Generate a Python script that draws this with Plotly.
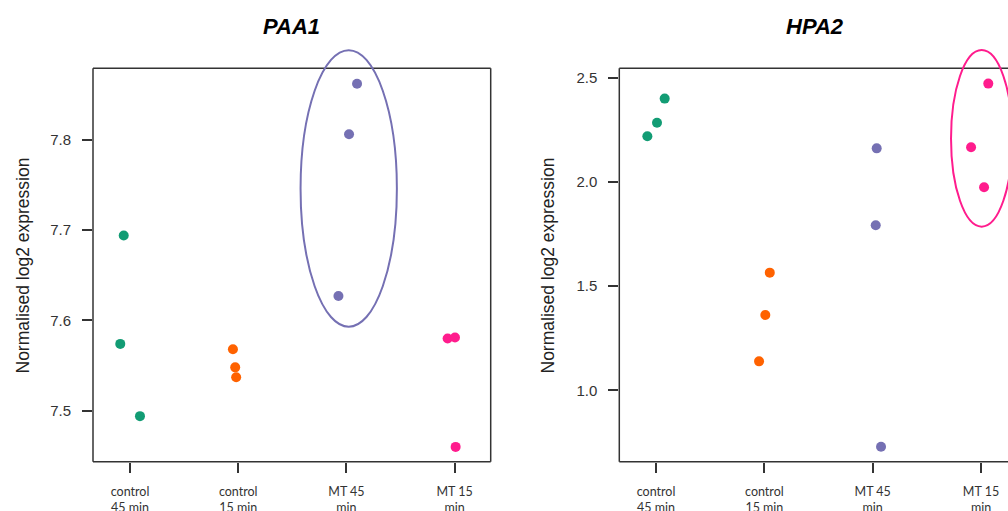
import plotly.graph_objects as go

# ---------------- data ----------------
groups = ["control<br>45 min", "control<br>15 min", "MT 45<br>min", "MT 15<br>min"]
group_pos = [1, 2, 3, 4]
colors = ["#129C74", "#FF6200", "#7570B3", "#FF1C8D"]

# PAA1 values (per group) and horizontal jitter
paa1_c45 = [7.694, 7.574, 7.494]
paa1_c15 = [7.568, 7.548, 7.537]
paa1_mt45 = [7.862, 7.806, 7.627]
paa1_mt15 = [7.580, 7.581, 7.460]
paa1_jit_c45 = [-0.058, -0.090, 0.092]
paa1_jit_c15 = [-0.049, -0.028, -0.019]
paa1_jit_mt45 = [0.098, 0.024, -0.074]
paa1_jit_mt15 = [-0.065, 0.003, 0.009]

# HPA2 values and jitter
hpa2_c45 = [2.220, 2.285, 2.401]
hpa2_c15 = [1.565, 1.362, 1.139]
hpa2_mt45 = [2.162, 1.7925, 0.729]
hpa2_mt15 = [2.473, 2.167, 1.975]
hpa2_jit_c45 = [-0.080, 0.009, 0.080]
hpa2_jit_c15 = [0.050, 0.009, -0.049]
hpa2_jit_mt45 = [0.037, 0.028, 0.077]
hpa2_jit_mt15 = [0.067, -0.092, 0.028]

paa1_ticks = [7.5, 7.6, 7.7, 7.8]
hpa2_ticks = [1.0, 1.5, 2.0, 2.5]

# highlighted groups (ellipse centre, semi-axes)
paa1_ellipse = dict(cx=3.021, cy=7.746, rx=0.445, ry=0.153, color=colors[2])
hpa2_ellipse = dict(cx=4.006, cy=2.210, rx=0.283, ry=0.424, color=colors[3])

# ---------------- figure ----------------
W, H = 1008, 511
fig = go.Figure()

paa1_vals = [paa1_c45, paa1_c15, paa1_mt45, paa1_mt15]
paa1_jit = [paa1_jit_c45, paa1_jit_c15, paa1_jit_mt45, paa1_jit_mt15]
hpa2_vals = [hpa2_c45, hpa2_c15, hpa2_mt45, hpa2_mt15]
hpa2_jit = [hpa2_jit_c45, hpa2_jit_c15, hpa2_jit_mt45, hpa2_jit_mt15]

for vals_set, jit_set, xa, ya in [(paa1_vals, paa1_jit, "x", "y"), (hpa2_vals, hpa2_jit, "x2", "y2")]:
    for g, (vals, jit) in enumerate(zip(vals_set, jit_set)):
        fig.add_trace(go.Scatter(
            x=[group_pos[g] + j for j in jit], y=vals,
            mode="markers", xaxis=xa, yaxis=ya,
            marker=dict(size=10, color=colors[g], line=dict(width=0)),
            showlegend=False, hoverinfo="skip", cliponaxis=False))

ydom = [(H - 461.7) / H, (H - 45) / H]
frame_top = (H - 68.2) / H
tickfont_x = dict(family="Lato", size=12.5, color="#333333")
tickfont_y = dict(family="Liberation Sans", size=15, color="#333333")

common_x = dict(tickmode="array", tickvals=group_pos, ticktext=groups, ticks="outside",
                ticklen=10, tickwidth=1.5, tickcolor="#333333", showline=False,
                showgrid=False, zeroline=False, tickfont=tickfont_x, ticklabelstandoff=8,
                automargin=False, fixedrange=True)
common_y = dict(tickmode="array", ticks="outside", ticklen=10, tickwidth=1.5,
                tickcolor="#333333", showline=False, showgrid=False, zeroline=False,
                tickfont=tickfont_y, ticklabelstandoff=8, automargin=False, fixedrange=True)

fig.update_layout(
    width=W, height=H, margin=dict(l=0, r=0, t=0, b=0, autoexpand=False),
    paper_bgcolor="white", plot_bgcolor="white",
    xaxis=dict(domain=[93 / W, 490.7 / W], range=[0.658, 4.333], anchor="y", **common_x),
    yaxis=dict(domain=ydom, range=[7.4436, 7.9048], anchor="x", tickvals=paa1_ticks,
               ticktext=[f"{v:.1f}" for v in paa1_ticks], **common_y),
    xaxis2=dict(domain=[619.3 / W, 1.0], range=[0.661, 4.249], anchor="y2", **common_x),
    yaxis2=dict(domain=ydom, range=[0.657, 2.6585], anchor="x2", tickvals=hpa2_ticks,
                ticktext=[f"{v:.1f}" for v in hpa2_ticks], **common_y),
)

shapes = []
line_style = dict(color="#333333", width=1.5)
# frames (left panel: full box, right panel: open at the cut-off right edge)
for xr, right in [("x domain", True), ("x2 domain", False)]:
    shapes.append(dict(type="line", xref=xr, yref="paper", x0=0, x1=1, y0=ydom[0], y1=ydom[0], line=line_style))
    shapes.append(dict(type="line", xref=xr, yref="paper", x0=0, x1=1, y0=frame_top, y1=frame_top, line=line_style))
    shapes.append(dict(type="line", xref=xr, yref="paper", x0=0, x1=0, y0=ydom[0], y1=frame_top, line=line_style))
    if right:
        shapes.append(dict(type="line", xref=xr, yref="paper", x0=1, x1=1, y0=ydom[0], y1=frame_top, line=line_style))

for e, xr, yr in [(paa1_ellipse, "x", "y"), (hpa2_ellipse, "x2", "y2")]:
    shapes.append(dict(type="circle", xref=xr, yref=yr,
                       x0=e["cx"] - e["rx"], x1=e["cx"] + e["rx"],
                       y0=e["cy"] - e["ry"], y1=e["cy"] + e["ry"],
                       line=dict(color=e["color"], width=2), fillcolor="rgba(0,0,0,0)"))
fig.update_layout(shapes=shapes)

title_font = dict(family="Liberation Sans", size=22, color="black")
ylab_font = dict(family="Liberation Sans", size=17.5, color="#222222")
annotations = [
    dict(text="<b><i>PAA1</i></b>", xref="x domain", yref="paper", x=0.5, y=(H - 26) / H,
         showarrow=False, font=title_font, xanchor="center", yanchor="middle"),
    dict(text="<b><i>HPA2</i></b>", xref="paper", yref="paper", x=815 / W, y=(H - 26) / H,
         showarrow=False, font=title_font, xanchor="center", yanchor="middle"),
    dict(text="Normalised log2 expression", xref="paper", yref="paper", x=22 / W, y=(H - 265.5) / H,
         textangle=-90, showarrow=False, font=ylab_font, xanchor="center", yanchor="middle"),
    dict(text="Normalised log2 expression", xref="paper", yref="paper", x=547 / W, y=(H - 265.5) / H,
         textangle=-90, showarrow=False, font=ylab_font, xanchor="center", yanchor="middle"),
]
fig.update_layout(annotations=annotations)

# remove the default page margin so the figure sits at the window origin
fig.write_html("out.html", config={"displayModeBar": False},
               post_script="document.body.style.margin='0';")
